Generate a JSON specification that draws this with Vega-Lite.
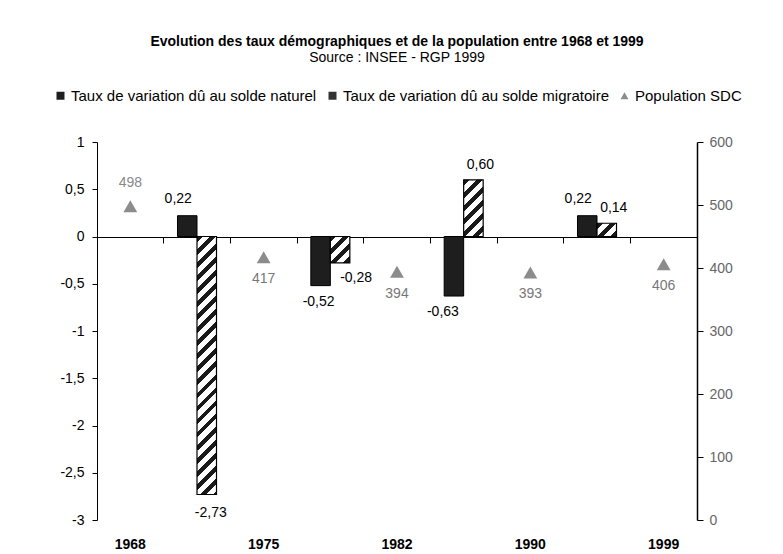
{
  "$schema": "https://vega.github.io/schema/vega-lite/v6.json",
  "width": 600,
  "height": 378,
  "autosize": {"type": "none"},
  "padding": {"left": 97, "top": 142, "right": 86, "bottom": 34},
  "background": "white",
  "config": {
    "font": "Liberation Sans",
    "locale": {"number": {"decimal": ",", "thousands": " ", "grouping": [3], "currency": ["", " €"], "minus": "-"}},
    "view": {"stroke": null},
    "axis": {"grid": false, "labelFont": "Liberation Sans", "titleFont": "Liberation Sans"},
    "legend": {"labelFont": "Liberation Sans"}
  },
  "title": {
    "text": "Evolution des taux démographiques et de la population entre 1968 et 1999",
    "subtitle": "Source : INSEE - RGP 1999",
    "fontSize": 14,
    "fontWeight": "bold",
    "color": "#000000",
    "subtitleFontSize": 14,
    "subtitleColor": "#000000",
    "subtitlePadding": 2,
    "anchor": "middle",
    "frame": "group",
    "offset": 23
  },
  "datasets": {
    "taux": [
      {"periode": "1968-1975", "serie": "naturel", "valeur": 0.22},
      {"periode": "1968-1975", "serie": "migratoire", "valeur": -2.73},
      {"periode": "1975-1982", "serie": "naturel", "valeur": -0.52},
      {"periode": "1975-1982", "serie": "migratoire", "valeur": -0.28},
      {"periode": "1982-1990", "serie": "naturel", "valeur": -0.63},
      {"periode": "1982-1990", "serie": "migratoire", "valeur": 0.60},
      {"periode": "1990-1999", "serie": "naturel", "valeur": 0.22},
      {"periode": "1990-1999", "serie": "migratoire", "valeur": 0.14}
    ],
    "pop": [
      {"annee": "1968", "population": 498, "serie": "Population SDC"},
      {"annee": "1975", "population": 417, "serie": "Population SDC"},
      {"annee": "1982", "population": 394, "serie": "Population SDC"},
      {"annee": "1990", "population": 393, "serie": "Population SDC"},
      {"annee": "1999", "population": 406, "serie": "Population SDC"}
    ]
  },
  "layer": [
    {
      "data": {"name": "taux"},
      "encoding": {
        "x": {
          "field": "periode", "type": "nominal",
          "scale": {"domain": ["1968", "1968-1975", "1975", "1975-1982", "1982", "1982-1990", "1990", "1990-1999", "1999"], "paddingInner": 0, "paddingOuter": 0},
          "axis": {"orient": "bottom", "values": ["1968", "1975", "1982", "1990", "1999"], "title": null, "ticks": false, "domain": false, "labelAngle": 0, "labelPadding": 17, "labelFontSize": 14, "labelFontWeight": "bold", "labelColor": "#000000"}
        },
        "xOffset": {"field": "serie", "type": "nominal", "scale": {"domain": ["naturel", "migratoire"], "paddingInner": 0, "paddingOuter": 0.709}},
        "y": {
          "field": "valeur", "type": "quantitative",
          "scale": {"domain": [-3, 1], "nice": false, "zero": false},
          "axis": {"orient": "left", "values": [-3, -2.5, -2, -1.5, -1, -0.5, 0, 0.5, 1], "format": ".1~f", "title": null, "domainColor": "#000000", "tickColor": "#000000", "tickSize": 5, "labelPadding": 8, "labelFontSize": 14, "labelColor": "#000000"}
        }
      },
      "layer": [
        {
          "transform": [{"filter": "datum.serie == 'naturel'"}],
          "mark": {"type": "bar", "fill": "#1e1e1e", "stroke": "#000000", "strokeWidth": 1}
        },
        {
          "transform": [{"filter": "datum.serie == 'migratoire'"}],
          "mark": {"type": "bar", "stroke": "#000000", "strokeWidth": 1.2},
          "encoding": {
            "fill": {
              "condition": [
                {"test": "datum.periode == '1968-1975'", "value": {"gradient": "linear", "x1": 0, "y1": 0, "x2": 0.0808, "y2": 1.0695, "stops": [
                  {"offset": 0, "color": "#1a1a1a"}, {"offset": 0.021, "color": "#1a1a1a"}, {"offset": 0.021, "color": "#ffffff"}, {"offset": 0.047, "color": "#ffffff"},
                  {"offset": 0.047, "color": "#1a1a1a"}, {"offset": 0.068, "color": "#1a1a1a"}, {"offset": 0.068, "color": "#ffffff"}, {"offset": 0.094, "color": "#ffffff"},
                  {"offset": 0.094, "color": "#1a1a1a"}, {"offset": 0.115, "color": "#1a1a1a"}, {"offset": 0.115, "color": "#ffffff"}, {"offset": 0.141, "color": "#ffffff"},
                  {"offset": 0.141, "color": "#1a1a1a"}, {"offset": 0.162, "color": "#1a1a1a"}, {"offset": 0.162, "color": "#ffffff"}, {"offset": 0.188, "color": "#ffffff"},
                  {"offset": 0.188, "color": "#1a1a1a"}, {"offset": 0.209, "color": "#1a1a1a"}, {"offset": 0.209, "color": "#ffffff"}, {"offset": 0.235, "color": "#ffffff"},
                  {"offset": 0.235, "color": "#1a1a1a"}, {"offset": 0.256, "color": "#1a1a1a"}, {"offset": 0.256, "color": "#ffffff"}, {"offset": 0.282, "color": "#ffffff"},
                  {"offset": 0.282, "color": "#1a1a1a"}, {"offset": 0.303, "color": "#1a1a1a"}, {"offset": 0.303, "color": "#ffffff"}, {"offset": 0.329, "color": "#ffffff"},
                  {"offset": 0.329, "color": "#1a1a1a"}, {"offset": 0.35, "color": "#1a1a1a"}, {"offset": 0.35, "color": "#ffffff"}, {"offset": 0.376, "color": "#ffffff"},
                  {"offset": 0.376, "color": "#1a1a1a"}, {"offset": 0.397, "color": "#1a1a1a"}, {"offset": 0.397, "color": "#ffffff"}, {"offset": 0.423, "color": "#ffffff"},
                  {"offset": 0.423, "color": "#1a1a1a"}, {"offset": 0.444, "color": "#1a1a1a"}, {"offset": 0.444, "color": "#ffffff"}, {"offset": 0.47, "color": "#ffffff"},
                  {"offset": 0.47, "color": "#1a1a1a"}, {"offset": 0.491, "color": "#1a1a1a"}, {"offset": 0.491, "color": "#ffffff"}, {"offset": 0.517, "color": "#ffffff"},
                  {"offset": 0.517, "color": "#1a1a1a"}, {"offset": 0.538, "color": "#1a1a1a"}, {"offset": 0.538, "color": "#ffffff"}, {"offset": 0.564, "color": "#ffffff"},
                  {"offset": 0.564, "color": "#1a1a1a"}, {"offset": 0.585, "color": "#1a1a1a"}, {"offset": 0.585, "color": "#ffffff"}, {"offset": 0.611, "color": "#ffffff"},
                  {"offset": 0.611, "color": "#1a1a1a"}, {"offset": 0.632, "color": "#1a1a1a"}, {"offset": 0.632, "color": "#ffffff"}, {"offset": 0.658, "color": "#ffffff"},
                  {"offset": 0.658, "color": "#1a1a1a"}, {"offset": 0.679, "color": "#1a1a1a"}, {"offset": 0.679, "color": "#ffffff"}, {"offset": 0.705, "color": "#ffffff"},
                  {"offset": 0.705, "color": "#1a1a1a"}, {"offset": 0.726, "color": "#1a1a1a"}, {"offset": 0.726, "color": "#ffffff"}, {"offset": 0.752, "color": "#ffffff"},
                  {"offset": 0.752, "color": "#1a1a1a"}, {"offset": 0.773, "color": "#1a1a1a"}, {"offset": 0.773, "color": "#ffffff"}, {"offset": 0.799, "color": "#ffffff"},
                  {"offset": 0.799, "color": "#1a1a1a"}, {"offset": 0.82, "color": "#1a1a1a"}, {"offset": 0.82, "color": "#ffffff"}, {"offset": 0.846, "color": "#ffffff"},
                  {"offset": 0.846, "color": "#1a1a1a"}, {"offset": 0.867, "color": "#1a1a1a"}, {"offset": 0.867, "color": "#ffffff"}, {"offset": 0.893, "color": "#ffffff"},
                  {"offset": 0.893, "color": "#1a1a1a"}, {"offset": 0.914, "color": "#1a1a1a"}, {"offset": 0.914, "color": "#ffffff"}, {"offset": 0.94, "color": "#ffffff"},
                  {"offset": 0.94, "color": "#1a1a1a"}, {"offset": 0.961, "color": "#1a1a1a"}, {"offset": 0.961, "color": "#ffffff"}, {"offset": 0.987, "color": "#ffffff"},
                  {"offset": 0.987, "color": "#1a1a1a"}, {"offset": 1, "color": "#1a1a1a"}
                ]}},
                {"test": "datum.periode == '1975-1982'", "value": {"gradient": "linear", "x1": 0, "y1": 0, "x2": 0.829, "y2": 1.127, "stops": [
                  {"offset": 0, "color": "#1a1a1a"}, {"offset": 0.127, "color": "#1a1a1a"}, {"offset": 0.127, "color": "#ffffff"}, {"offset": 0.283, "color": "#ffffff"},
                  {"offset": 0.283, "color": "#1a1a1a"}, {"offset": 0.41, "color": "#1a1a1a"}, {"offset": 0.41, "color": "#ffffff"}, {"offset": 0.566, "color": "#ffffff"},
                  {"offset": 0.566, "color": "#1a1a1a"}, {"offset": 0.693, "color": "#1a1a1a"}, {"offset": 0.693, "color": "#ffffff"}, {"offset": 0.849, "color": "#ffffff"},
                  {"offset": 0.849, "color": "#1a1a1a"}, {"offset": 0.976, "color": "#1a1a1a"}, {"offset": 0.976, "color": "#ffffff"}, {"offset": 1, "color": "#ffffff"}
                ]}},
                {"test": "datum.periode == '1982-1990'", "value": {"gradient": "linear", "x1": 0, "y1": 0, "x2": 0.413, "y2": 1.202, "stops": [
                  {"offset": 0, "color": "#1a1a1a"}, {"offset": 0.077, "color": "#1a1a1a"}, {"offset": 0.077, "color": "#ffffff"}, {"offset": 0.17, "color": "#ffffff"},
                  {"offset": 0.17, "color": "#1a1a1a"}, {"offset": 0.247, "color": "#1a1a1a"}, {"offset": 0.247, "color": "#ffffff"}, {"offset": 0.34, "color": "#ffffff"},
                  {"offset": 0.34, "color": "#1a1a1a"}, {"offset": 0.417, "color": "#1a1a1a"}, {"offset": 0.417, "color": "#ffffff"}, {"offset": 0.51, "color": "#ffffff"},
                  {"offset": 0.51, "color": "#1a1a1a"}, {"offset": 0.587, "color": "#1a1a1a"}, {"offset": 0.587, "color": "#ffffff"}, {"offset": 0.68, "color": "#ffffff"},
                  {"offset": 0.68, "color": "#1a1a1a"}, {"offset": 0.757, "color": "#1a1a1a"}, {"offset": 0.757, "color": "#ffffff"}, {"offset": 0.85, "color": "#ffffff"},
                  {"offset": 0.85, "color": "#1a1a1a"}, {"offset": 0.927, "color": "#1a1a1a"}, {"offset": 0.927, "color": "#ffffff"}, {"offset": 1, "color": "#ffffff"}
                ]}}
              ],
              "value": {"gradient": "linear", "x1": 0, "y1": 0, "x2": 1.151, "y2": 0.779, "stops": [
                {"offset": 0, "color": "#1a1a1a"}, {"offset": 0.18, "color": "#1a1a1a"}, {"offset": 0.18, "color": "#ffffff"}, {"offset": 0.4, "color": "#ffffff"},
                {"offset": 0.4, "color": "#1a1a1a"}, {"offset": 0.58, "color": "#1a1a1a"}, {"offset": 0.58, "color": "#ffffff"}, {"offset": 0.8, "color": "#ffffff"},
                {"offset": 0.8, "color": "#1a1a1a"}, {"offset": 0.98, "color": "#1a1a1a"}, {"offset": 0.98, "color": "#ffffff"}, {"offset": 1, "color": "#ffffff"}
              ]}
            }
          }
        },
        {
          "transform": [{"filter": "datum.valeur > 0 && datum.serie == 'naturel'"}],
          "mark": {"type": "text", "baseline": "middle", "align": "center", "dx": -9, "dy": -17, "fontSize": 14, "fill": "#000000"},
          "encoding": {"text": {"field": "valeur", "type": "quantitative", "format": ".2f"}}
        },
        {
          "transform": [{"filter": "datum.valeur > 0 && datum.serie == 'migratoire'"}],
          "mark": {"type": "text", "baseline": "middle", "align": "center", "dx": 7, "dy": -15, "fontSize": 14, "fill": "#000000"},
          "encoding": {"text": {"field": "valeur", "type": "quantitative", "format": ".2f"}}
        },
        {
          "transform": [{"filter": "datum.periode == '1975-1982' && datum.serie == 'naturel'"}],
          "mark": {"type": "text", "baseline": "middle", "align": "center", "dx": -2, "dy": 16, "fontSize": 14, "fill": "#000000"},
          "encoding": {"text": {"field": "valeur", "type": "quantitative", "format": ".2f"}}
        },
        {
          "transform": [{"filter": "datum.periode == '1982-1990' && datum.serie == 'naturel'"}],
          "mark": {"type": "text", "baseline": "middle", "align": "center", "dx": -11, "dy": 16, "fontSize": 14, "fill": "#000000"},
          "encoding": {"text": {"field": "valeur", "type": "quantitative", "format": ".2f"}}
        },
        {
          "transform": [{"filter": "datum.periode == '1968-1975' && datum.serie == 'migratoire'"}],
          "mark": {"type": "text", "baseline": "middle", "align": "center", "dx": 4, "dy": 19, "fontSize": 14, "fill": "#000000"},
          "encoding": {"text": {"field": "valeur", "type": "quantitative", "format": ".2f"}}
        },
        {
          "transform": [{"filter": "datum.periode == '1975-1982' && datum.serie == 'migratoire'"}],
          "mark": {"type": "text", "baseline": "middle", "align": "center", "dx": 16, "dy": 15, "fontSize": 14, "fill": "#000000"},
          "encoding": {"text": {"field": "valeur", "type": "quantitative", "format": ".2f"}}
        }
      ]
    },
    {
      "data": {"name": "pop"},
      "encoding": {
        "x": {
          "field": "annee", "type": "nominal",
          "scale": {"domain": ["1968", "1968-1975", "1975", "1975-1982", "1982", "1982-1990", "1990", "1990-1999", "1999"], "paddingInner": 0, "paddingOuter": 0},
          "axis": {"orient": "top", "offset": -95, "bandPosition": 0, "labels": false, "title": null, "ticks": true, "tickSize": -6, "tickColor": "#000000", "domain": true, "domainColor": "#000000", "domainWidth": 1}
        },
        "y": {
          "field": "population", "type": "quantitative",
          "scale": {"domain": [0, 600], "nice": false},
          "axis": {"orient": "right", "values": [0, 100, 200, 300, 400, 500, 600], "title": null, "domainColor": "#000000", "domainWidth": 1.5, "tickColor": "#000000", "tickSize": 6, "labelPadding": 6, "labelFontSize": 14, "labelColor": "#666666"}
        }
      },
      "layer": [
        {
          "mark": {"type": "point", "filled": true, "size": 190, "opacity": 1},
          "encoding": {
            "color": {
              "field": "serie", "type": "nominal",
              "scale": {"domain": ["Taux de variation dû au solde naturel", "Taux de variation dû au solde migratoire", "Population SDC"], "range": ["#1e1e1e", "#333333", "#8c8c8c"]},
              "legend": {"orient": "none", "legendX": -44, "legendY": -54, "direction": "horizontal", "title": null, "labelFontSize": 15, "labelLimit": 400, "labelColor": "#000000", "symbolSize": 64, "symbolStrokeWidth": 0, "labelOffset": 3, "columnPadding": 8}
            },
            "shape": {
              "field": "serie", "type": "nominal",
              "scale": {"domain": ["Taux de variation dû au solde naturel", "Taux de variation dû au solde migratoire", "Population SDC"], "range": ["square", "square", "triangle-up"]},
              "legend": {"orient": "none", "legendX": -44, "legendY": -54, "direction": "horizontal", "title": null, "labelFontSize": 15, "labelLimit": 400, "labelColor": "#000000", "symbolSize": 64, "symbolStrokeWidth": 0, "labelOffset": 3, "columnPadding": 8}
            }
          }
        },
        {
          "transform": [{"filter": "datum.population > 450"}],
          "mark": {"type": "text", "baseline": "middle", "align": "center", "dy": -23, "fontSize": 14, "fill": "#888888"},
          "encoding": {"text": {"field": "population", "type": "quantitative"}}
        },
        {
          "transform": [{"filter": "datum.population <= 450"}],
          "mark": {"type": "text", "baseline": "middle", "align": "center", "dy": 22, "fontSize": 14, "fill": "#777777"},
          "encoding": {"text": {"field": "population", "type": "quantitative"}}
        }
      ]
    }
  ],
  "resolve": {"scale": {"y": "independent"}, "axis": {"x": "independent"}}
}
